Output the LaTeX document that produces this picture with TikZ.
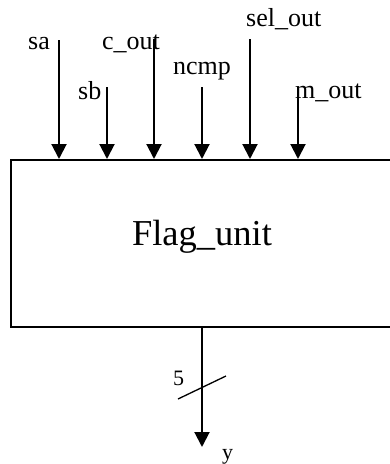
\documentclass[tikz,border=0pt]{standalone}
\usepackage{fontspec}
\setmainfont{Liberation Serif}
\usetikzlibrary{arrows.meta}
\tikzset{
  sig/.style={line width=2pt,-{Triangle[width=15pt,length=15pt]}},
  lbl/.style={inner sep=0pt,anchor=base west,font=\fontsize{26}{29}\selectfont},
  smalllbl/.style={inner sep=0pt,anchor=base west,font=\fontsize{22}{25}\selectfont},
  blockbox/.style={draw,line width=2pt,rectangle,inner sep=0pt,anchor=north west},
  slashline/.style={line width=1.3pt}
}
\begin{document}
\begin{tikzpicture}[x=1pt,y=-1pt]
\useasboundingbox (0,0) rectangle (390,464);
\node[blockbox,minimum width=384pt,minimum height=167pt] (box) at (10,159) {};
\node[inner sep=0pt,anchor=base,font=\fontsize{36.5}{40}\selectfont] (title) at (202,245) {Flag\_unit};
% inputs
\coordinate (sa) at (59,40);
\coordinate (sb) at (107,87);
\coordinate (cout) at (154,39);
\coordinate (ncmp) at (202,87);
\coordinate (selout) at (250,39);
\coordinate (mout) at (298,87);
\draw[sig] (sa) -- (sa |- box.north);
\draw[sig] (sb) -- (sb |- box.north);
\draw[sig] (cout) -- (cout |- box.north);
\draw[sig] (ncmp) -- (ncmp |- box.north);
\draw[sig] (selout) -- (selout |- box.north);
\draw[sig] (mout) -- (mout |- box.north);
\node[lbl] (lsa) at (28,49) {sa};
\node[lbl] (lcout) at (102,49) {c\_out};
\node[lbl] (lselout) at (246,26) {sel\_out};
\node[lbl] (lsb) at (78,99) {sb};
\node[lbl] (lncmp) at (173,74) {ncmp};
\node[lbl] (lmout) at (295,98) {m\_out};
% output
\coordinate (yend) at (202,447);
\draw[sig] (box.south -| yend) -- (yend);
\coordinate (s1) at (178,399);
\coordinate (s2) at (226,376);
\draw[slashline] (s1) -- (s2);
\node[smalllbl] (five) at (173,385) {5};
\node[smalllbl] (ly) at (222,459) {y};
\end{tikzpicture}
\end{document}
